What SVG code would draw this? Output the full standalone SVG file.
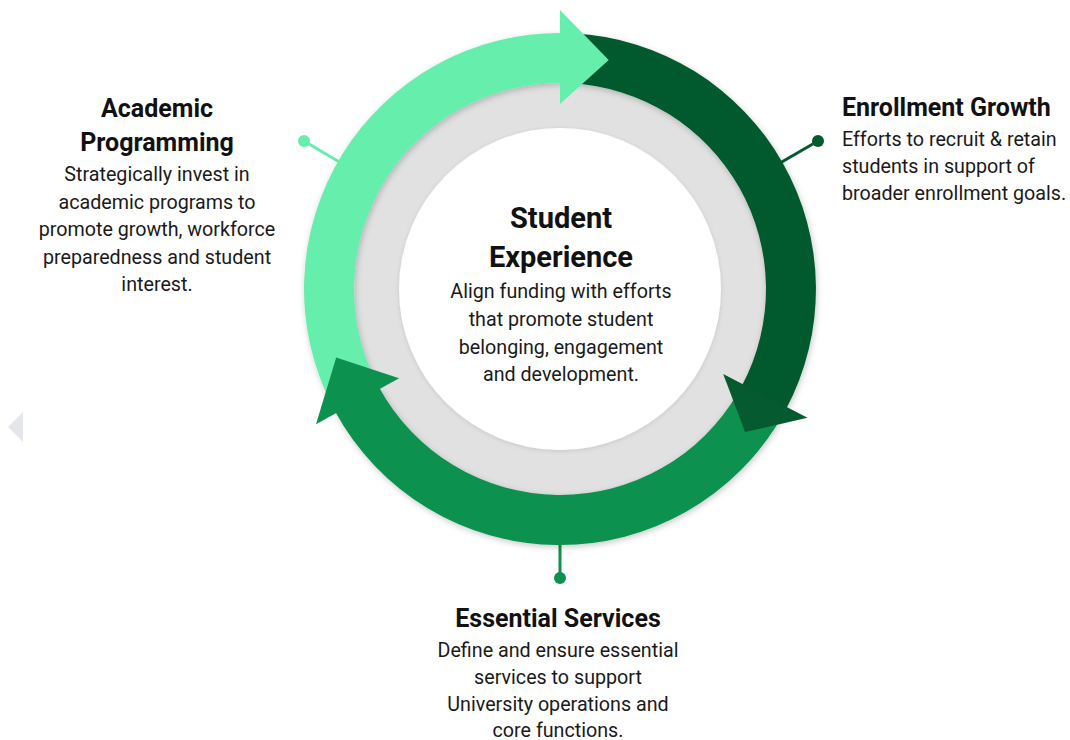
<svg xmlns="http://www.w3.org/2000/svg" width="1070" height="740" viewBox="0 0 1070 740">
  <style>
    .title { font-family: Roboto, "Liberation Sans", sans-serif; font-weight: 700; font-size: 25px; fill: #111111; }
    .hub-title { font-family: Roboto, "Liberation Sans", sans-serif; font-weight: 700; font-size: 29px; fill: #111111; }
    .body { font-family: Roboto, "Liberation Sans", sans-serif; font-weight: 400; font-size: 19.7px; fill: #1a1a1a; }
    .mid { text-anchor: middle; }
    .light { fill: #66EFAC; }
    .dark { fill: #065A2F; }
    .medium { fill: #0D914F; }
    .lead-light { stroke: #66EFAC; stroke-width: 3; }
    .lead-dark { stroke: #065A2F; stroke-width: 3; }
    .lead-medium { stroke: #0D914F; stroke-width: 3; }
  </style>
  <defs>
    <filter id="soft-shadow" x="-20%" y="-20%" width="140%" height="140%">
      <feDropShadow dx="1" dy="2" stdDeviation="3" flood-color="#000000" flood-opacity="0.22"/>
    </filter>
    <filter id="hub-shadow" x="-20%" y="-20%" width="140%" height="140%">
      <feDropShadow dx="0" dy="1" stdDeviation="2" flood-color="#000000" flood-opacity="0.12"/>
    </filter>
  </defs>

  <rect width="1070" height="740" fill="#ffffff"/>

  <!-- carousel back control -->
  <polygon points="8,427 23,412 23,442" fill="#E4E6EB"/>

  <!-- hub: gray ring and white core -->
  <g id="hub">
    <circle cx="560" cy="289" r="210" fill="#E1E1E1"/>
    <circle cx="560" cy="289" r="161" fill="#ffffff" filter="url(#hub-shadow)"/>
  </g>

  <!-- connectors: leader lines with end dots -->
  <g id="connectors">
    <line class="lead-light" x1="304" y1="141" x2="341" y2="163"/>
    <circle class="light" cx="304" cy="141" r="6"/>
    <line class="lead-dark" x1="818" y1="141" x2="780" y2="163"/>
    <circle class="dark" cx="818" cy="141" r="6"/>
    <line class="lead-medium" x1="560" y1="540" x2="560" y2="578"/>
    <circle class="medium" cx="560" cy="578" r="6"/>
  </g>

  <!-- cycle arrows: band bodies first, heads on top -->
  <g id="cycle-bodies" filter="url(#soft-shadow)">
    <path id="arc-academic" class="light" d="M 331.9 405.2 A 256 256 0 0 1 562.2 33.0 L 561.8 83.0 A 206 206 0 0 0 376.5 382.5 Z"/>
    <path id="arc-enrollment" class="dark" d="M 573.4 33.4 A 256 256 0 0 1 786.0 409.2 L 741.9 385.7 A 206 206 0 0 0 570.8 83.3 Z"/>
    <path id="arc-services" class="medium" d="M 781.7 417.0 A 256 256 0 0 1 335.0 411.2 L 379.0 387.3 A 206 206 0 0 0 738.4 392.0 Z"/>
  </g>
  <g id="cycle-heads">
    <polygon id="head-academic" class="light" points="560,104 560,10 608.7,60.1"/>
    <polygon id="head-enrollment" class="dark" points="723.2,374.0 807.5,417.8 745.1,432.1"/>
    <polygon id="head-services" class="medium" points="399.1,378.2 316.0,424.3 336.2,357.4"/>
  </g>

  <!-- node: Student Experience (hub text) -->
  <g id="node-student-experience">
    <text class="hub-title mid" x="561" y="228">Student</text>
    <text class="hub-title mid" x="561" y="267">Experience</text>
    <text class="body mid" x="561" y="298">Align funding with efforts</text>
    <text class="body mid" x="561" y="326">that promote student</text>
    <text class="body mid" x="561" y="353.5">belonging, engagement</text>
    <text class="body mid" x="561" y="381">and development.</text>
  </g>

  <!-- node: Academic Programming -->
  <g id="node-academic-programming">
    <text class="title mid" x="157" y="117">Academic</text>
    <text class="title mid" x="157" y="151">Programming</text>
    <text class="body mid" x="157" y="181">Strategically invest in</text>
    <text class="body mid" x="157" y="208.5">academic programs to</text>
    <text class="body mid" x="157" y="236">promote growth, workforce</text>
    <text class="body mid" x="157" y="263.5">preparedness and student</text>
    <text class="body mid" x="157" y="291">interest.</text>
  </g>

  <!-- node: Enrollment Growth -->
  <g id="node-enrollment-growth">
    <text class="title" x="842" y="116">Enrollment Growth</text>
    <text class="body" x="842" y="146">Efforts to recruit &amp; retain</text>
    <text class="body" x="842" y="173">students in support of</text>
    <text class="body" x="842" y="200">broader enrollment goals.</text>
  </g>

  <!-- node: Essential Services -->
  <g id="node-essential-services">
    <text class="title mid" x="558" y="627">Essential Services</text>
    <text class="body mid" x="558" y="657">Define and ensure essential</text>
    <text class="body mid" x="558" y="684">services to support</text>
    <text class="body mid" x="558" y="711">University operations and</text>
    <text class="body mid" x="558" y="737">core functions.</text>
  </g>
</svg>
